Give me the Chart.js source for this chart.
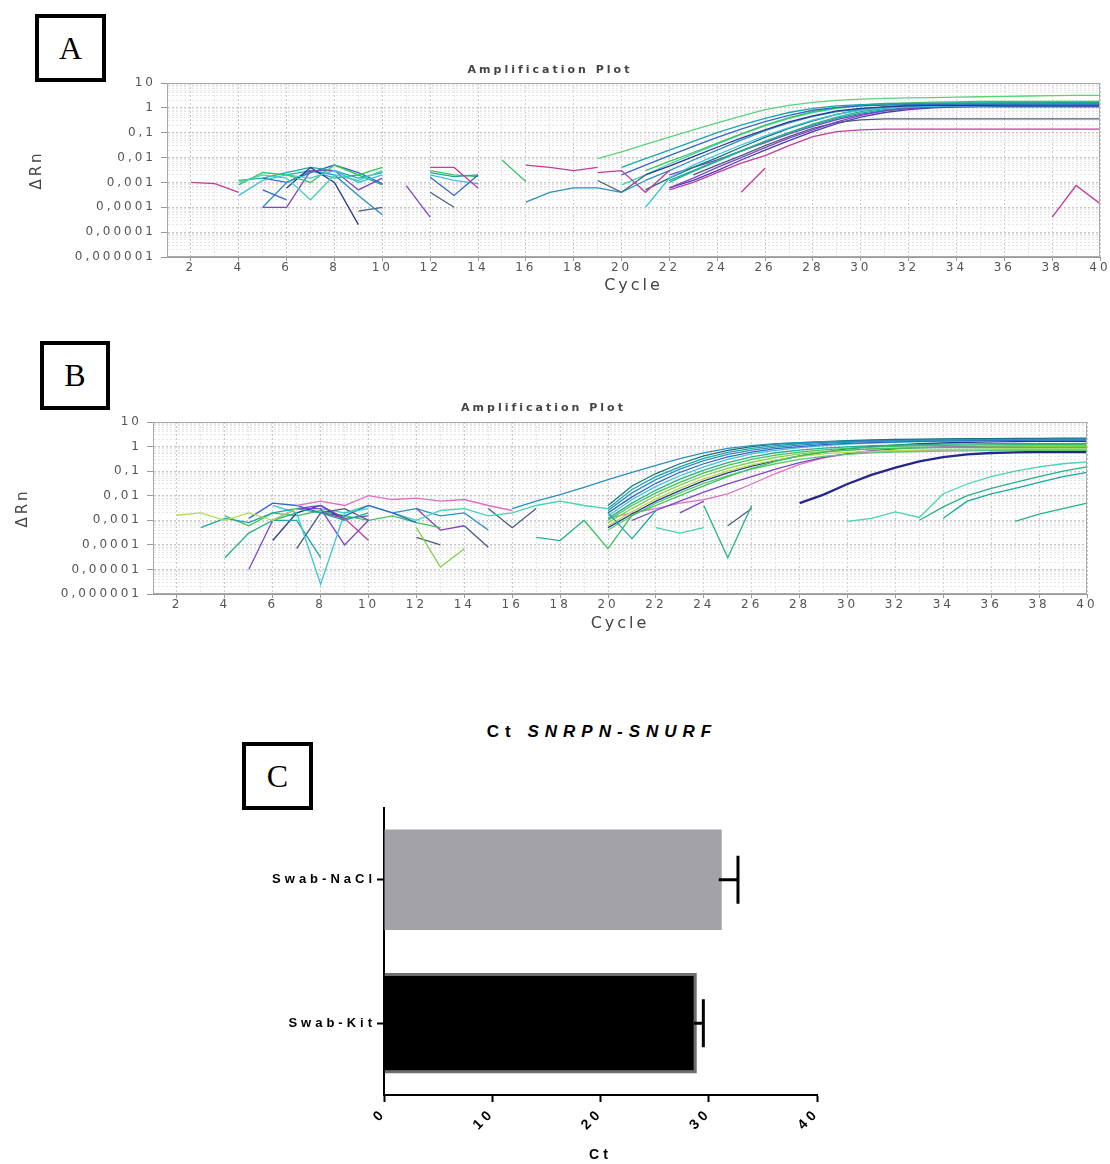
<!DOCTYPE html>
<html>
<head>
<meta charset="utf-8">
<title>Amplification plots and Ct SNRPN-SNURF</title>
<script src="https://cdn.jsdelivr.net/npm/chart.js@4.4.1/dist/chart.umd.min.js"></script>
<style>
  body { margin: 0; background: #fff; }
  #page { position: relative; width: 1110px; height: 1164px; overflow: hidden; background: #fff; }
  canvas { position: absolute; }
  .panel-label {
    position: absolute; box-sizing: border-box; border: 4px solid #000;
    font-family: "Liberation Serif", "Times New Roman", serif; font-size: 32px;
    display: flex; align-items: center; justify-content: center; color: #000;
  }
  #titleC {
    position: absolute; left: 400px; top: 722px; width: 404px; text-align: center;
    font-family: "Liberation Sans", Arial, sans-serif; font-weight: bold; font-size: 17px;
    letter-spacing: 6px; line-height: 20px; color: #000;
  }
</style>
</head>
<body>
<div id="page">
  <div class="panel-label" style="left:35px; top:14px; width:71px; height:68px;">A</div>
  <div class="panel-label" style="left:40px; top:341px; width:70px; height:69px;">B</div>
  <div class="panel-label" style="left:242px; top:742px; width:71px; height:68px;">C</div>
  <div id="titleC">Ct <i>SNRPN-SNURF</i></div>
  <canvas id="chartA" width="1110" height="245" style="left:0; top:55px;"></canvas>
  <canvas id="chartB" width="1110" height="248" style="left:0; top:392px;"></canvas>
  <canvas id="chartC" width="620" height="364" style="left:240px; top:800px;"></canvas>
</div>
<script>
// Axis ticks for the amplification plots
const cycleLabels = [2, 4, 6, 8, 10, 12, 14, 16, 18, 20, 22, 24, 26, 28, 30, 32, 34, 36, 38, 40];
const deltaRnTicks = [0.000001, 0.00001, 0.0001, 0.001, 0.01, 0.1, 1, 10];
const deltaRnLabels = ['0,000001', '0,00001', '0,0001', '0,001', '0,01', '0,1', '1', '10'];

// Panel A: [first cycle, ΔRn per cycle]
const ampA = [
  [2, [0.001, 0.0009, 0.0004]],
  [4, [0.0003, 0.0012, 0.002, 0.0015, 0.003, 0.001, 0.002]],
  [4, [0.001, 0.002, 0.0015, 0.0002, 0.002, 0.0012, 0.003]],
  [4, [0.0008, 0.0025, 0.002, 0.001, 0.005, 0.002, 0.004]],
  [5, [0.0001, 0.0001, 0.003, 0.003, 0.0005, 0.0015]],
  [6, [0.0006, 0.004, 0.001, 0.00002]],
  [5, [0.0005, 0.0002]],
  [5, [0.0001, 0.001, 0.003, 0.002, 0.0003, 0.00005]],
  [9, [0.00007, 0.0001]],
  [4, [0.0012, 0.0015, 0.0025, 0.004, 0.003, 0.0015, 0.0025]],
  [5, [0.0015, 0.001, 0.0025, 0.005, 0.0025, 0.0009]],
  [6, [0.002, 0.003, 0.0015, 0.002, 0.0008]],
  [11, [0.00075, 0.00004]],
  [12, [0.004, 0.004, 0.0006]],
  [12, [0.0025, 0.0017, 0.002]],
  [12, [0.0016, 0.0003, 0.002]],
  [12, [0.0004, 0.0001]],
  [12, [0.003, 0.002, 0.0017]],
  [12, [0.002, 0.0012, 0.0009]],
  [15, [0.008, 0.0011]],
  [16, [0.00016, 0.0004, 0.0006, 0.0006, 0.0004, 0.0012]],
  [16, [0.005, 0.004, 0.003, 0.004]],
  [19, [0.0025, 0.003, 0.0004, 0.003]],
  [19, [0.0012, 0.0004, 0.002]],
  [25, [0.0004, 0.0037]],
  [38, [0.00004, 0.00075, 0.00014]],
  [19, [0.009, 0.017, 0.034, 0.066, 0.13, 0.25, 0.47, 0.85, 1.25, 1.65, 2.0, 2.25, 2.4, 2.5, 2.6, 2.7, 2.8, 2.9, 3.0, 3.1, 3.2, 3.2]],
  [20, [0.004, 0.009, 0.02, 0.045, 0.1, 0.2, 0.38, 0.65, 0.95, 1.2, 1.35, 1.45, 1.5, 1.52, 1.55, 1.56, 1.58, 1.6, 1.6, 1.6, 1.6]],
  [20, [0.002, 0.005, 0.012, 0.028, 0.065, 0.14, 0.28, 0.5, 0.8, 1.05, 1.2, 1.3, 1.35, 1.38, 1.4, 1.4, 1.4, 1.4, 1.4, 1.4, 1.4]],
  [21, [0.002, 0.0045, 0.011, 0.026, 0.06, 0.13, 0.27, 0.48, 0.75, 0.95, 1.1, 1.2, 1.25, 1.25, 1.25, 1.2, 1.2, 1.2, 1.2, 1.2]],
  [21, [0.0001, 0.0015, 0.005, 0.013, 0.032, 0.075, 0.16, 0.32, 0.55, 0.8, 1.0, 1.1, 1.15, 1.2, 1.2, 1.2, 1.2, 1.2, 1.2, 1.2]],
  [22, [0.0006, 0.0015, 0.004, 0.01, 0.025, 0.06, 0.13, 0.27, 0.5, 0.75, 0.95, 1.1, 1.15, 1.2, 1.2, 1.2, 1.2, 1.2, 1.2]],
  [22, [0.001, 0.0028, 0.007, 0.018, 0.045, 0.1, 0.22, 0.42, 0.7, 0.95, 1.15, 1.3, 1.4, 1.45, 1.5, 1.55, 1.6, 1.6, 1.6]],
  [22, [0.0005, 0.001, 0.0025, 0.006, 0.012, 0.03, 0.07, 0.11, 0.13, 0.14, 0.14, 0.14, 0.14, 0.14, 0.14, 0.14, 0.14, 0.14, 0.14]],
  [23, [0.002, 0.005, 0.012, 0.03, 0.07, 0.15, 0.26, 0.33, 0.36, 0.36, 0.36, 0.36, 0.36, 0.36, 0.36, 0.36, 0.36, 0.36]],
  [21, [0.003, 0.007, 0.016, 0.038, 0.09, 0.2, 0.4, 0.7, 1.0, 1.3, 1.5, 1.6, 1.7, 1.75, 1.8, 1.8, 1.8, 1.8, 1.8, 1.8]],
  [21, [0.0012, 0.003, 0.008, 0.02, 0.05, 0.12, 0.25, 0.45, 0.7, 0.9, 1.05, 1.15, 1.2, 1.25, 1.3, 1.3, 1.3, 1.3, 1.3, 1.3]],
  [22, [0.0012, 0.003, 0.0075, 0.019, 0.045, 0.1, 0.2, 0.38, 0.62, 0.85, 1.0, 1.1, 1.2, 1.3, 1.35, 1.4, 1.45, 1.5, 1.5]],
  [22, [0.0006, 0.0012, 0.003, 0.008, 0.02, 0.048, 0.11, 0.23, 0.42, 0.65, 0.85, 1.0, 1.1, 1.15, 1.2, 1.2, 1.2, 1.2, 1.2]],
  [20, [0.0008, 0.002, 0.0055, 0.014, 0.035, 0.085, 0.19, 0.38, 0.65, 0.95, 1.2, 1.35, 1.45, 1.55, 1.6, 1.65, 1.7, 1.7, 1.7, 1.7, 1.7]],
  [21, [0.0005, 0.0015, 0.004, 0.01, 0.026, 0.065, 0.15, 0.3, 0.55, 0.85, 1.1, 1.3, 1.45, 1.55, 1.6, 1.65, 1.7, 1.7, 1.7, 1.7]],
  [22, [0.002, 0.004, 0.008, 0.018, 0.04, 0.09, 0.18, 0.34, 0.55, 0.78, 0.95, 1.05, 1.1, 1.1, 1.1, 1.1, 1.1, 1.1, 1.1]]
];

// Panel B: [first cycle, ΔRn per cycle]
const ampB = [
  [2, [0.0016, 0.002, 0.001, 0.002, 0.001, 0.003]],
  [3, [0.0005, 0.0012, 0.0008, 0.002, 0.003, 0.002, 0.001, 0.002]],
  [4, [0.00003, 0.0003, 0.001, 0.002]],
  [5, [0.00001, 0.001, 0.003, 0.004, 0.0012, 0.0015]],
  [6, [0.004, 0.002, 0.0000025, 0.002, 0.003]],
  [6, [0.001, 0.001, 0.00003]],
  [7, [0.003, 0.003, 0.0001, 0.001]],
  [8, [0.002, 0.0012, 0.00015]],
  [6, [0.00015, 0.002, 0.004, 0.001]],
  [7, [0.00007, 0.002, 0.003, 0.001]],
  [7, [0.004, 0.006, 0.004, 0.01, 0.007, 0.008, 0.006, 0.007, 0.004, 0.0025]],
  [5, [0.0012, 0.005, 0.004, 0.002, 0.0015, 0.004, 0.002, 0.0008]],
  [4, [0.0015, 0.0006, 0.002, 0.0015, 0.0025, 0.0015, 0.001, 0.0015, 0.0008, 0.0005]],
  [8, [0.003, 0.002, 0.004, 0.002, 0.001, 0.0025, 0.003, 0.0015, 0.002, 0.004, 0.006, 0.004, 0.003]],
  [12, [0.0005, 0.0000125, 0.00007]],
  [12, [0.0002, 0.0001]],
  [12, [0.003, 0.0004, 0.0006]],
  [11, [0.002, 0.003, 0.0015, 0.002, 0.0004]],
  [14, [0.0006, 0.00008]],
  [15, [0.003, 0.0005, 0.003]],
  [17, [0.0002, 0.00015, 0.001]],
  [20, [0.002, 0.00018, 0.0025]],
  [22, [0.0005, 0.0003, 0.0005]],
  [24, [0.004, 0.00003, 0.004]],
  [25, [0.0006, 0.003]],
  [23, [0.002, 0.006]],
  [16, [0.003, 0.006, 0.011, 0.022, 0.045, 0.09, 0.17, 0.32, 0.55, 0.85, 1.1, 1.3, 1.45, 1.55, 1.62, 1.7, 1.75, 1.8, 1.85, 1.9, 1.92, 1.95, 1.98, 2.0, 2.0]],
  [19, [0.001, 0.00007, 0.0016, 0.004, 0.01, 0.025, 0.06, 0.13, 0.25, 0.42, 0.6, 0.72, 0.8, 0.85, 0.88, 0.9, 0.9, 0.9, 0.9, 0.9, 0.9, 0.9]],
  [20, [0.004, 0.025, 0.08, 0.2, 0.42, 0.7, 1.0, 1.25, 1.45, 1.6, 1.75, 1.85, 1.95, 2.0, 2.05, 2.1, 2.1, 2.15, 2.15, 2.2, 2.2]],
  [20, [0.003, 0.018, 0.06, 0.15, 0.33, 0.58, 0.85, 1.1, 1.3, 1.5, 1.65, 1.75, 1.85, 1.9, 1.95, 2.0, 2.0, 2.05, 2.05, 2.1, 2.1]],
  [20, [0.0025, 0.013, 0.045, 0.12, 0.27, 0.48, 0.72, 0.95, 1.15, 1.35, 1.5, 1.6, 1.7, 1.78, 1.85, 1.9, 1.9, 1.95, 1.95, 2.0, 2.0]],
  [20, [0.002, 0.009, 0.032, 0.09, 0.2, 0.38, 0.6, 0.82, 1.0, 1.2, 1.35, 1.45, 1.55, 1.62, 1.7, 1.75, 1.8, 1.8, 1.85, 1.85, 1.85]],
  [20, [0.0015, 0.007, 0.024, 0.065, 0.15, 0.3, 0.5, 0.7, 0.9, 1.1, 1.25, 1.38, 1.5, 1.58, 1.65, 1.7, 1.75, 1.8, 1.8, 1.85, 1.85]],
  [20, [0.0012, 0.005, 0.017, 0.047, 0.11, 0.22, 0.38, 0.56, 0.72, 0.86, 0.98, 1.08, 1.15, 1.2, 1.25, 1.28, 1.3, 1.3, 1.32, 1.32, 1.35]],
  [20, [0.001, 0.004, 0.013, 0.035, 0.085, 0.17, 0.3, 0.45, 0.6, 0.73, 0.85, 0.95, 1.02, 1.08, 1.12, 1.15, 1.18, 1.2, 1.2, 1.2, 1.2]],
  [20, [0.0008, 0.003, 0.01, 0.027, 0.065, 0.13, 0.23, 0.36, 0.5, 0.62, 0.72, 0.8, 0.86, 0.9, 0.93, 0.95, 0.97, 0.98, 1.0, 1.0, 1.0]],
  [20, [0.0006, 0.0022, 0.0075, 0.02, 0.048, 0.1, 0.18, 0.29, 0.4, 0.5, 0.58, 0.64, 0.68, 0.72, 0.75, 0.77, 0.78, 0.8, 0.8, 0.8, 0.8]],
  [20, [0.0005, 0.0018, 0.006, 0.016, 0.04, 0.085, 0.16, 0.27, 0.42, 0.6, 0.8, 1.0, 1.15, 1.3, 1.4, 1.5, 1.55, 1.6, 1.62, 1.65, 1.65]],
  [20, [0.0004, 0.0015, 0.005, 0.013, 0.032, 0.065, 0.12, 0.2, 0.3, 0.4, 0.48, 0.55, 0.6, 0.63, 0.65, 0.67, 0.68, 0.7, 0.7, 0.7, 0.7]],
  [21, [0.001, 0.0025, 0.006, 0.014, 0.03, 0.06, 0.12, 0.22, 0.36, 0.52, 0.68, 0.8, 0.9, 0.97, 1.0, 1.02, 1.05, 1.05, 1.05, 1.05]],
  [20, [0.0012, 0.002, 0.003, 0.005, 0.007, 0.012, 0.03, 0.08, 0.19, 0.35, 0.5, 0.6, 0.66, 0.7, 0.72, 0.74, 0.75, 0.75, 0.75, 0.75, 0.75]],
  [28, [0.005, 0.011, 0.03, 0.07, 0.14, 0.25, 0.37, 0.48, 0.55, 0.58, 0.6, 0.6, 0.6]],
  [30, [0.0009, 0.0012, 0.0022, 0.0013, 0.012, 0.03, 0.06, 0.1, 0.15, 0.2, 0.24]],
  [33, [0.001, 0.0035, 0.01, 0.02, 0.035, 0.06, 0.1, 0.15]],
  [34, [0.0012, 0.006, 0.012, 0.02, 0.035, 0.06, 0.09]],
  [37, [0.0009, 0.0018, 0.003, 0.005]]
];

// Panel C: mean Ct and error (upper bar only)
const ctGroups = ['Swab-NaCl', 'Swab-Kit'];
const ctMeans = [31.2, 28.9];
const ctErrors = [1.5, 0.6];

// Line colours
const MAG = '#c23c9e', PINK = '#de6fc4', PURP = '#7c46c8', INDIGO = '#4b3db2', NAVY = '#27398c';
const BLUE = '#3566cc', TEALB = '#2b90c0', CYAN = '#3cc4d8', TEAL = '#19a8a2', DTEAL = '#14757e';
const SEA = '#27b18a', AQUA = '#45d3b2', GREEN = '#3cc45e', LGREEN = '#80d24b', YGREEN = '#b3dc4c';
const SLATE = '#4c5a7c', TOPGREEN = '#5ad27c', GREEN2 = '#5cc878', DEEP = '#25288a';

const colorsA = [
  MAG, CYAN, AQUA, GREEN, PURP, NAVY, BLUE, TEALB, SLATE, TEAL, BLUE, SEA, PURP, MAG, TEAL, BLUE,
  SLATE, GREEN, CYAN, GREEN, TEALB, MAG, MAG, SLATE, MAG, MAG,
  TOPGREEN, TEAL, BLUE, NAVY, CYAN, PURP, SEA, MAG, SLATE, GREEN, TEALB, TEAL, INDIGO, AQUA, DTEAL, PURP
];
const colorsB = [
  YGREEN, TEAL, SEA, PURP, CYAN, TEAL, PURP, MAG, NAVY, SLATE, PINK, BLUE, GREEN, AQUA, LGREEN, SLATE,
  PURP, TEALB, SLATE, SLATE, SEA, TEAL, AQUA, SEA, SLATE, PURP, TEALB, GREEN,
  DTEAL, TEAL, TEALB, BLUE, CYAN, SEA, GREEN, LGREEN, YGREEN, NAVY, GREEN2, PURP, PINK,
  DEEP, AQUA, SEA, TEAL, SEA
];

// Grid positions on the log axis: 1..9 in each decade
const deltaRnGrid = [];
deltaRnTicks.slice(0, -1).forEach(d => {
  for (let m = 1; m < 10; m++) deltaRnGrid.push(d * m);
});
deltaRnGrid.push(deltaRnTicks[deltaRnTicks.length - 1]);

const isDecade = v => deltaRnTicks.some(t => Math.abs(t - v) / t < 1e-6);

const textSpacing = (px) => ({
  id: 'textSpacing',
  beforeLayout: (chart) => { chart.ctx.letterSpacing = px; },
  beforeDraw: (chart) => { chart.ctx.letterSpacing = px; }
});

const plotFrame = {
  id: 'plotFrame',
  afterDatasetsDraw(chart) {
    const { ctx, chartArea: a } = chart;
    ctx.save();
    ctx.strokeStyle = '#aaaaaa';
    ctx.lineWidth = 1;
    ctx.strokeRect(a.left + 0.5, a.top + 0.5, a.width - 1, a.height - 1);
    ctx.restore();
  }
};

const tickFont = { family: 'DejaVu Sans', size: 12 };

function ampChart(id, series, colors, wide, geo) {
  const datasets = series.map(([start, values], i) => ({
    data: values.map((v, k) => ({ x: start + k, y: v })),
    borderColor: colors[i],
    borderWidth: wide.includes(i) ? 2.4 : 1.3,
    pointRadius: 0,
    fill: false
  }));

  return new Chart(document.getElementById(id), {
    type: 'line',
    data: { datasets },
    options: {
      responsive: false,
      animation: false,
      events: [],
      layout: { padding: { left: 0, right: geo.right, top: 0, bottom: 0 } },
      plugins: {
        legend: { display: false },
        tooltip: { enabled: false },
        title: {
          display: true,
          text: 'Amplification Plot',
          color: '#444',
          font: { family: 'DejaVu Sans', size: 11 },
          padding: { top: geo.titleTop, bottom: geo.titleBottom }
        }
      },
      scales: {
        x: {
          type: 'linear',
          min: 1,
          max: 40,
          afterFit: (a) => { a.height = geo.xHeight; a.paddingLeft = 0; a.paddingRight = 0; },
          ticks: {
            stepSize: 1,
            autoSkip: false,
            maxRotation: 0,
            minRotation: 0,
            padding: 0,
            color: '#555',
            font: tickFont,
            callback: v => cycleLabels.includes(v) ? String(v) : ''
          },
          grid: {
            color: c => (c.tick && c.tick.value % 2 === 0) ? '#cbcbcb' : '#e4e4e4',
            tickLength: 4,
            tickColor: c => (c.tick && c.tick.value % 2 === 0) ? '#999' : 'rgba(0,0,0,0)'
          },
          border: { color: '#999', dash: [2, 2] },
          title: {
            display: true,
            text: 'Cycle',
            color: '#444',
            font: { family: 'DejaVu Sans', size: 16 },
            padding: { top: 0, bottom: geo.cycleBottom }
          }
        },
        y: {
          type: 'logarithmic',
          min: 0.000001,
          max: 10,
          afterBuildTicks: (a) => { a.ticks = deltaRnGrid.map(v => ({ value: v })); },
          afterFit: (a) => { a.width = geo.yWidth; a.paddingTop = 0; a.paddingBottom = 0; },
          ticks: {
            autoSkip: false,
            padding: 5,
            color: '#555',
            font: tickFont,
            callback: (v) => {
              const i = deltaRnTicks.findIndex(t => Math.abs(t - v) / t < 1e-6);
              return i >= 0 ? deltaRnLabels[i] : '';
            }
          },
          grid: {
            color: c => (c.tick && isDecade(c.tick.value)) ? '#c6c6c6' : '#e6e6e6',
            tickLength: 6,
            tickColor: c => (c.tick && isDecade(c.tick.value)) ? '#999' : 'rgba(0,0,0,0)'
          },
          border: { color: '#999', dash: [2, 2] },
          title: {
            display: true,
            text: 'ΔRn',
            color: '#444',
            font: { family: 'DejaVu Sans', size: 15 },
            padding: { top: geo.yTitle, bottom: 0 }
          }
        }
      }
    },
    plugins: [textSpacing('3px'), plotFrame]
  });
}

ampChart('chartA', ampA, colorsA, [], {
  right: 10, titleTop: 8.8, titleBottom: 6, xHeight: 43, cycleBottom: 5, yWidth: 167, yTitle: 28
});
ampChart('chartB', ampB, colorsB, [41], {
  right: 23, titleTop: 9.4, titleBottom: 7.4, xHeight: 46, cycleBottom: 7, yWidth: 153, yTitle: 14
});

// Panel C - horizontal bars with one-sided error bars
const errorBars = {
  id: 'errorBars',
  afterDatasetsDraw(chart) {
    const { ctx } = chart;
    const xScale = chart.scales.x;
    const meta = chart.getDatasetMeta(0);
    ctx.save();
    ctx.strokeStyle = '#000';
    ctx.lineWidth = 3;
    meta.data.forEach((bar, i) => {
      const x0 = xScale.getPixelForValue(ctMeans[i]);
      const x1 = xScale.getPixelForValue(ctMeans[i] + ctErrors[i]);
      const cap = bar.height * 0.24;
      ctx.beginPath();
      ctx.moveTo(x0 - 3, bar.y);
      ctx.lineTo(x1, bar.y);
      ctx.moveTo(x1, bar.y - cap);
      ctx.lineTo(x1, bar.y + cap);
      ctx.stroke();
    });
    ctx.restore();
  }
};

const boldFont = (size) => ({ family: 'Liberation Sans', weight: 'bold', size });

new Chart(document.getElementById('chartC'), {
  type: 'bar',
  data: {
    labels: ctGroups,
    datasets: [{
      data: ctMeans,
      backgroundColor: ['#a3a3a7', '#000000'],
      borderColor: ['#a3a3a7', '#6e6e6e'],
      borderWidth: [0, 3],
      borderSkipped: 'start',
      categoryPercentage: 1,
      barPercentage: 0.7
    }]
  },
  options: {
    indexAxis: 'y',
    responsive: false,
    animation: false,
    events: [],
    layout: { padding: { left: 0, right: 43, top: 8, bottom: 0 } },
    plugins: { legend: { display: false }, tooltip: { enabled: false } },
    scales: {
      x: {
        min: 0,
        max: 40,
        afterFit: (a) => { a.height = 69; a.paddingLeft = 0; a.paddingRight = 0; },
        ticks: { stepSize: 10, maxRotation: 45, minRotation: 45, padding: 3, color: '#000', font: boldFont(14) },
        grid: { drawOnChartArea: false, tickLength: 7, tickWidth: 2, tickColor: '#000' },
        border: { color: '#000', width: 2 },
        title: { display: true, text: 'Ct', color: '#000', font: boldFont(14), padding: { top: 0, bottom: 0 } }
      },
      y: {
        afterFit: (a) => { a.width = 144; a.paddingTop = 0; a.paddingBottom = 0; },
        ticks: { padding: 1, color: '#000', font: boldFont(13) },
        grid: { offset: false, drawOnChartArea: false, tickLength: 7, tickWidth: 2, tickColor: '#000' },
        border: { color: '#000', width: 2 }
      }
    }
  },
  plugins: [textSpacing('4px'), errorBars]
});
</script>
</body>
</html>
